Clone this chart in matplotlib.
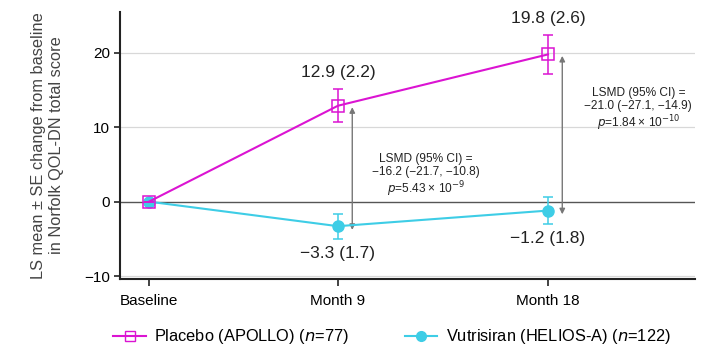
import matplotlib
matplotlib.use("Agg")
import matplotlib.pyplot as plt
from matplotlib.lines import Line2D

plt.rcParams['font.family'] = ['Liberation Sans', 'DejaVu Sans']

# Data
timepoints = ["Baseline", "Month 9", "Month 18"]
x_months = [0, 9, 19]
placebo_mean = [0.0, 12.9, 19.8]
placebo_se = [0.0, 2.2, 2.6]
vutri_mean = [0.0, -3.3, -1.2]
vutri_se = [0.0, 1.7, 1.8]
placebo_label = "Placebo (APOLLO) ($\\it{n}$=77)"
vutri_label = "Vutrisiran (HELIOS-A) ($\\it{n}$=122)"
lsmd_texts = [
    "LSMD (95% CI) =\n\u221216.2 (\u221221.7, \u221210.8)\n$\\it{p}$=5.43 \u00d7 10$^{\u22129}$",
    "LSMD (95% CI) =\n\u221221.0 (\u221227.1, \u221214.9)\n$\\it{p}$=1.84 \u00d7 10$^{\u221210}$",
]
yticks = [-10, 0, 10, 20]

magenta = "#db14d2"
cyan = "#3ecde6"

fig = plt.figure(figsize=(7.15, 3.47), dpi=100)
W, H = 715, 347
ax = fig.add_axes([120 / W, 1 - 279 / H, (695 - 120) / W, (279 - 12) / H])

ax.set_xlim(-1.38, 26.0)
ax.set_ylim(-10.4, 25.5)

for yv in yticks:
    if yv == 0:
        ax.axhline(yv, color="#555555", lw=1.0, zorder=1)
    else:
        ax.axhline(yv, color="#d8d8d8", lw=0.9, zorder=0)

ax.errorbar(x_months, placebo_mean, yerr=placebo_se, color=magenta, lw=1.5,
            marker="s", ms=8, mfc="none", mec=magenta, mew=1.1,
            ecolor=magenta, elinewidth=1.1, capsize=3.5, capthick=1.1, zorder=4)
ax.errorbar(x_months, vutri_mean, yerr=vutri_se, color=cyan, lw=1.5,
            marker="o", ms=8, mfc=cyan, mec=cyan,
            ecolor=cyan, elinewidth=1.1, capsize=3.5, capthick=1.1, zorder=3)

def fmt(v):
    return f"{v:.1f}".replace("-", "\u2212")

# Data labels
for i in (1, 2):
    ax.text(x_months[i], placebo_mean[i] + placebo_se[i] + 1.2,
            f"{fmt(placebo_mean[i])} ({fmt(placebo_se[i])})",
            ha="center", va="bottom", fontsize=12.5, color="#222222")
    ax.text(x_months[i], vutri_mean[i] - vutri_se[i] - 0.9,
            f"{fmt(vutri_mean[i])} ({fmt(vutri_se[i])})",
            ha="center", va="top", fontsize=12.5, color="#222222")

# Double arrows
arrow_dx = 0.68
for i in (1, 2):
    xa = x_months[i] + arrow_dx
    ax.annotate("", xy=(xa, placebo_mean[i] - 0.2), xytext=(xa, vutri_mean[i] - 0.5),
                arrowprops=dict(arrowstyle="<|-|>", color="#777777", lw=1.0,
                                mutation_scale=8, shrinkA=0, shrinkB=0), zorder=2)

ax.text(x_months[1] + 4.2, 3.5, lsmd_texts[0], ha="center", va="center",
        fontsize=8.6, color="#222222", linespacing=1.1)
ax.text(x_months[2] + 4.3, 12.3, lsmd_texts[1], ha="center", va="center",
        fontsize=8.6, color="#222222", linespacing=1.1)

ax.set_xticks(x_months)
ax.set_xticklabels(timepoints, fontsize=11)
ax.set_yticks(yticks)
ax.set_yticklabels([str(v).replace("-", "\u2212") for v in yticks], fontsize=11)
ax.tick_params(axis="x", length=5, width=1.2, color="#222222", pad=6)
ax.tick_params(axis="y", length=4, width=1.2, color="#222222", pad=3)
for s in ("top", "right"):
    ax.spines[s].set_visible(False)
for s in ("left", "bottom"):
    ax.spines[s].set_linewidth(1.5)
    ax.spines[s].set_color("#222222")

ax.set_ylabel("LS mean \u00b1 SE change from baseline\nin Norfolk QOL-DN total score",
              fontsize=11.8, color="#444444", linespacing=1.3)
ax.yaxis.set_label_coords(-0.097, 0.5)

handles = [
    Line2D([], [], color=magenta, lw=1.5, marker="s", ms=7, mfc="none", mec=magenta),
    Line2D([], [], color=cyan, lw=1.5, marker="o", ms=7, mfc=cyan, mec=cyan),
]
fig.legend(handles, [placebo_label, vutri_label], loc="center",
           bbox_to_anchor=(0.548, 1 - 337 / H),
           ncol=2, frameon=False, fontsize=11.8, handlelength=2.0,
           columnspacing=3.4, handletextpad=0.5)

fig.savefig("out.png", dpi=100)
